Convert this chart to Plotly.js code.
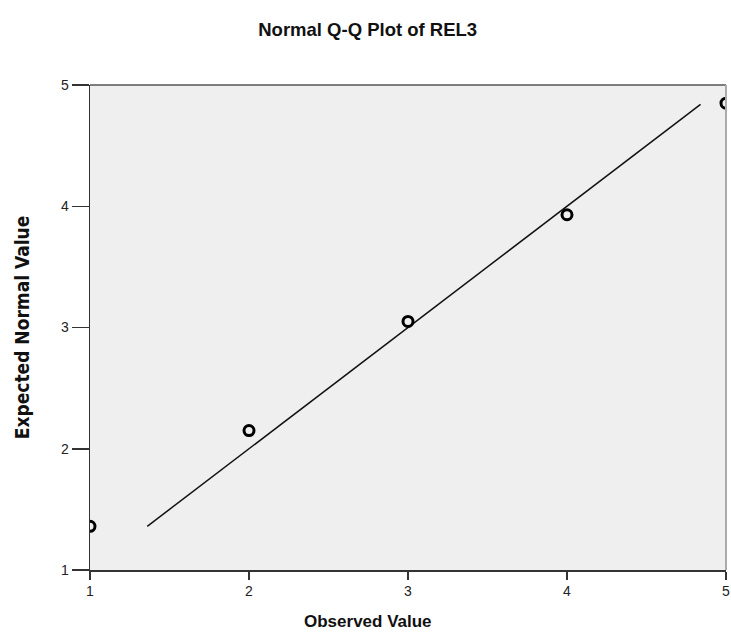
<!DOCTYPE html>
<html>
<head>
<meta charset="utf-8">
<script src="https://cdn.plot.ly/plotly-3.0.1.min.js"></script>
<style>html,body{margin:0;padding:0;background:#fff;}#chart{width:731px;height:635px;}</style>
</head>
<body>
<div id="chart"></div>
<script>
const observed = [1, 2, 3, 4, 5];
const expected = [1.36, 2.15, 3.05, 3.93, 4.85];
const refLineX = [1.36, 4.84];
const refLineY = [1.36, 4.84];
const xTicks = [1, 2, 3, 4, 5];
const yTicks = [1, 2, 3, 4, 5];

const traces = [
  {
    x: refLineX, y: refLineY, type: 'scatter', mode: 'lines',
    line: {color: '#111', width: 1.5}, hoverinfo: 'skip', showlegend: false
  },
  {
    x: observed, y: expected, type: 'scatter', mode: 'markers',
    marker: {symbol: 'circle-open', size: 10, color: '#000', line: {color: '#000', width: 3}},
    showlegend: false, cliponaxis: true
  }
];

const layout = {
  width: 731, height: 635,
  margin: {l: 90, r: 5, t: 85, b: 65},
  paper_bgcolor: '#ffffff',
  plot_bgcolor: '#efefef',
  showlegend: false,
  title: {
    text: 'Normal Q-Q Plot of REL3',
    font: {family: 'Liberation Sans, Arial, sans-serif', size: 18.5, color: '#111', weight: 'bold'},
    x: 0.503, xanchor: 'center', y: 0.953, yanchor: 'middle'
  },
  xaxis: {
    range: [1, 5], tickvals: xTicks, ticktext: xTicks.map(String),
    showgrid: false, zeroline: false,
    showline: true, linecolor: '#333', linewidth: 1.5, mirror: false,
    ticks: 'outside', ticklen: 8, tickwidth: 1.5, tickcolor: '#333',
    tickfont: {family: 'Liberation Sans, Arial, sans-serif', size: 14, color: '#222'},
    fixedrange: true
  },
  yaxis: {
    range: [1, 5], tickvals: yTicks, ticktext: yTicks.map(String),
    showgrid: false, zeroline: false,
    showline: true, linecolor: '#333', linewidth: 1.5, mirror: false,
    ticks: 'outside', ticklen: 17, tickwidth: 1.5, tickcolor: '#333',
    tickfont: {family: 'Liberation Sans, Arial, sans-serif', size: 14, color: '#222'},
    title: {text: 'Expected Normal Value', standoff: 26,
      font: {family: 'Liberation Sans Narrow, Arial Narrow, DejaVu Sans Condensed, sans-serif', size: 19, color: '#111', weight: 'bold'}},
    fixedrange: true
  },
  annotations: [
    {text: 'Observed Value', xref: 'paper', yref: 'paper', x: 0.437, y: -0.107,
     xanchor: 'center', yanchor: 'middle', showarrow: false,
     font: {family: 'Liberation Sans, Arial, sans-serif', size: 17, color: '#111', weight: 'bold'}}
  ],
  shapes: [
    {type: 'line', xref: 'paper', yref: 'paper', x0: 0, x1: 1, y0: 1, y1: 1,
     line: {color: '#555', width: 1.5}},
    {type: 'line', xref: 'paper', yref: 'paper', x0: 1, x1: 1, y0: 0, y1: 1,
     line: {color: '#aaa', width: 2}}
  ]
};

Plotly.newPlot('chart', traces, layout, {displayModeBar: false, staticPlot: true});
</script>
</body>
</html>
